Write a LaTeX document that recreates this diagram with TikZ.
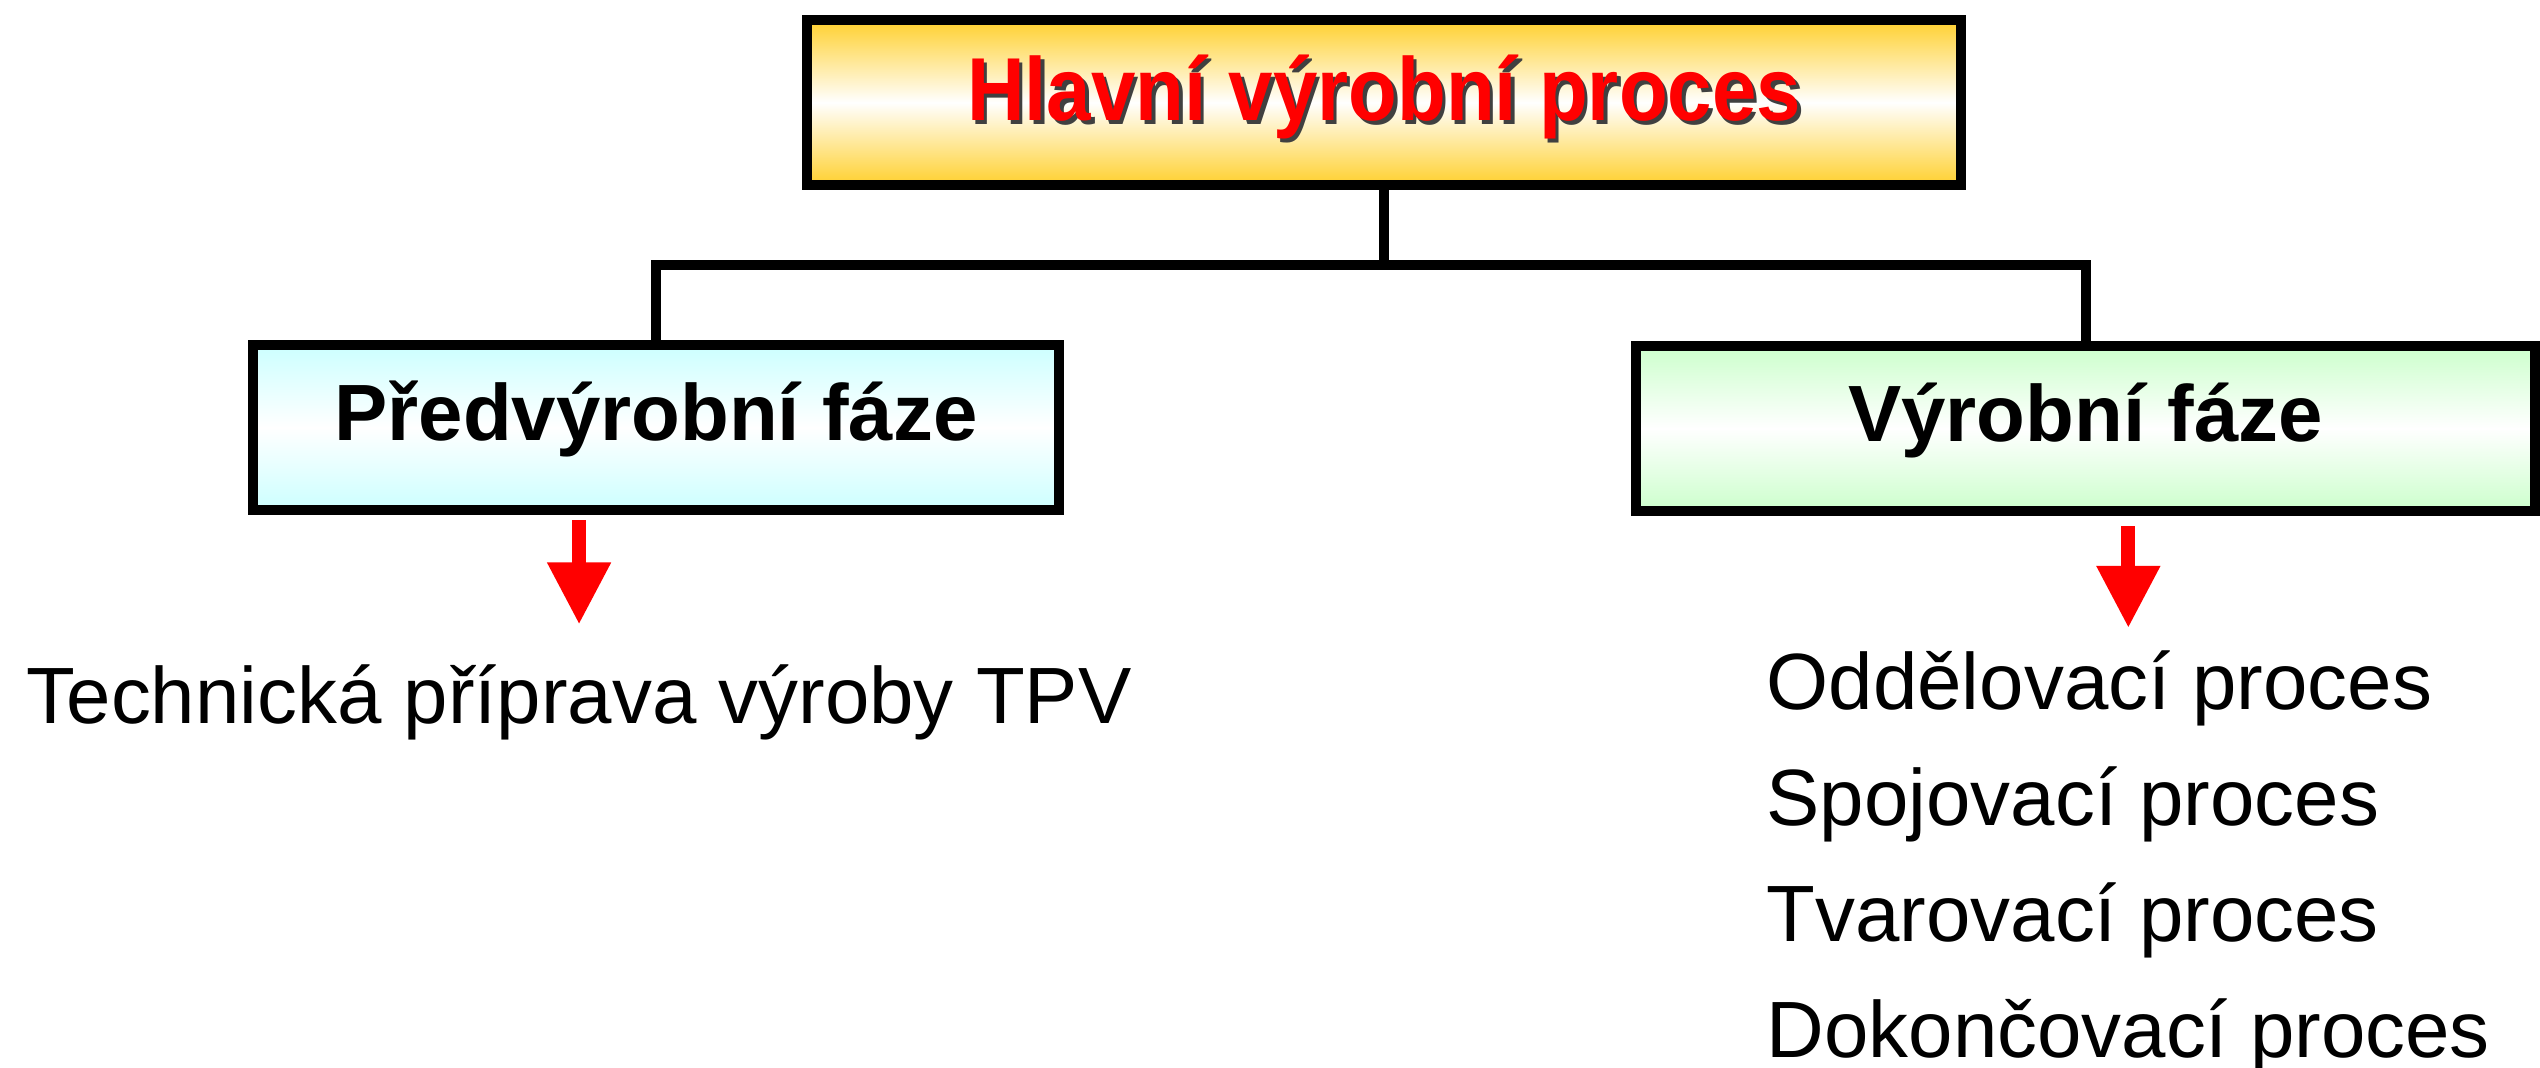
\documentclass[tikz,border=0pt]{standalone}
\usepackage{fontspec}
\setmainfont{Liberation Sans}
\usetikzlibrary{positioning, arrows.meta}

\definecolor{zlata}{HTML}{FFD02E}
\definecolor{azur}{HTML}{CCFFFF}
\definecolor{zelen}{HTML}{CCFFCC}
\definecolor{cervena}{HTML}{FF0000}

\newcommand{\stinpismo}[1]{\makebox[0pt][l]{\hspace{0.035cm}\raisebox{-0.035cm}{\color{black!75}#1}}#1}

\begin{document}
\begin{tikzpicture}[x=0.01cm, y=-0.01cm,
    faze/.style={draw, line width=0.1cm, minimum height=1.65cm, inner sep=0pt,
      text height=0.6cm, text depth=0.33cm, font=\fontsize{22.7}{27}\selectfont\bfseries},
    spoj/.style={line width=0.1cm},
    sipka/.style={cervena, line width=0.14cm, -{Triangle[width=0.6cm, length=0.62cm]}},
    popis/.style={inner sep=0pt, font=\fontsize{22.7}{33}\selectfont, align=left}]

    \useasboundingbox (0,0) rectangle (2540,1068);

    \node[faze, minimum width=11.54cm, top color=zlata, bottom color=zlata, middle color=white,
      text=cervena, text depth=0.23cm] (hlavni) at (1384,102.5)
      {\scalebox{1}[1.12]{\stinpismo{Hlavní výrobní proces}}};
    \node[faze, minimum width=8.06cm, top color=azur, bottom color=azur, middle color=white]
      (pred) at (656,427.5) {Předvýrobní fáze};
    \node[faze, minimum width=8.99cm, top color=zelen, bottom color=zelen, middle color=white]
      (vyr) at (2085.5,428.5) {Výrobní fáze};

    \coordinate (rozvod) at (1384,265);
    \draw[spoj] (hlavni.south) -- (rozvod);
    \draw[spoj, line join=miter] (pred.north) |- (rozvod) -| (vyr.north);

    \node[popis, anchor=base west] (tpv) at (26,724) {Technická příprava výroby TPV};
    \node[popis, anchor=north west] (procesy) at (1766,650)
      {Oddělovací proces\\Spojovací proces\\Tvarovací proces\\Dokončovací proces};

    \draw[sipka] ([yshift=-0.05cm]pred.south -| tpv.north) -- ([yshift=0.4cm]tpv.north);
    \draw[sipka] ([yshift=-0.1cm]vyr.south -| procesy.north) -- ([yshift=0.22cm]procesy.north);
\end{tikzpicture}
\end{document}
